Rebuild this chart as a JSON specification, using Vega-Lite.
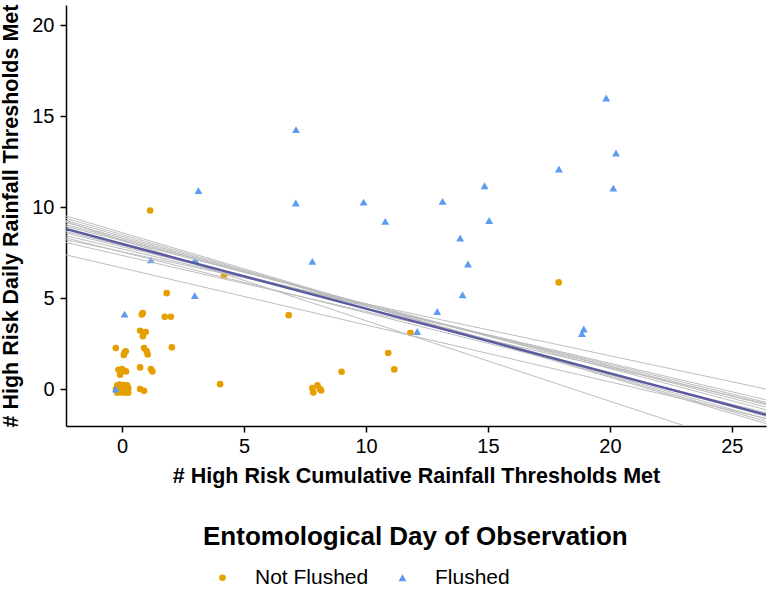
{
  "$schema": "https://vega.github.io/schema/vega-lite/v6.json",
  "width": 700,
  "height": 421,
  "autosize": "none",
  "padding": {"left": 66, "top": 5, "right": 4, "bottom": 166},
  "background": "white",
  "config": {
    "font": "Liberation Sans",
    "view": {"stroke": null},
    "axis": {
      "grid": false,
      "domainColor": "black",
      "domainWidth": 1.5,
      "tickColor": "black",
      "tickWidth": 1.5,
      "tickSize": 6,
      "labelFontSize": 20,
      "labelColor": "black",
      "titleFontSize": 21.5,
      "titleFontWeight": "bold",
      "titleColor": "black"
    }
  },
  "datasets": {
    "pts": [
      {"x": 1.83, "y": 5.27, "g": "Not Flushed"},
      {"x": 1.75, "y": 3.97, "g": "Not Flushed"},
      {"x": 2.0, "y": 3.97, "g": "Not Flushed"},
      {"x": 0.81, "y": 4.1, "g": "Not Flushed"},
      {"x": 0.85, "y": 4.18, "g": "Not Flushed"},
      {"x": 0.74, "y": 3.2, "g": "Not Flushed"},
      {"x": 0.97, "y": 3.13, "g": "Not Flushed"},
      {"x": 0.85, "y": 2.9, "g": "Not Flushed"},
      {"x": -0.26, "y": 2.25, "g": "Not Flushed"},
      {"x": 0.1, "y": 2.0, "g": "Not Flushed"},
      {"x": 0.15, "y": 2.07, "g": "Not Flushed"},
      {"x": 0.07, "y": 1.87, "g": "Not Flushed"},
      {"x": 0.9, "y": 2.25, "g": "Not Flushed"},
      {"x": 1.01, "y": 2.07, "g": "Not Flushed"},
      {"x": 1.05, "y": 1.9, "g": "Not Flushed"},
      {"x": 2.04, "y": 2.29, "g": "Not Flushed"},
      {"x": 0.74, "y": 1.19, "g": "Not Flushed"},
      {"x": 1.18, "y": 1.1, "g": "Not Flushed"},
      {"x": 1.24, "y": 0.97, "g": "Not Flushed"},
      {"x": -0.15, "y": 1.06, "g": "Not Flushed"},
      {"x": -0.01, "y": 1.1, "g": "Not Flushed"},
      {"x": 0.16, "y": 0.97, "g": "Not Flushed"},
      {"x": -0.08, "y": 0.79, "g": "Not Flushed"},
      {"x": 0.07, "y": 1.02, "g": "Not Flushed"},
      {"x": 0.74, "y": 0.0, "g": "Not Flushed"},
      {"x": 0.9, "y": -0.1, "g": "Not Flushed"},
      {"x": 4.02, "y": 0.27, "g": "Not Flushed"},
      {"x": 6.83, "y": 4.06, "g": "Not Flushed"},
      {"x": 1.15, "y": 9.81, "g": "Not Flushed"},
      {"x": 4.18, "y": 6.22, "g": "Not Flushed"},
      {"x": 7.8, "y": 0.05, "g": "Not Flushed"},
      {"x": 8.01, "y": 0.2, "g": "Not Flushed"},
      {"x": 8.16, "y": -0.08, "g": "Not Flushed"},
      {"x": 7.84, "y": -0.19, "g": "Not Flushed"},
      {"x": 8.11, "y": 0.0, "g": "Not Flushed"},
      {"x": 9.0, "y": 0.95, "g": "Not Flushed"},
      {"x": 10.91, "y": 1.98, "g": "Not Flushed"},
      {"x": 11.16, "y": 1.08, "g": "Not Flushed"},
      {"x": 11.82, "y": 3.08, "g": "Not Flushed"},
      {"x": 17.9, "y": 5.86, "g": "Not Flushed"},
      {"x": -0.2, "y": 0.2, "g": "Not Flushed"},
      {"x": -0.1, "y": 0.25, "g": "Not Flushed"},
      {"x": 0.05, "y": 0.22, "g": "Not Flushed"},
      {"x": 0.2, "y": 0.2, "g": "Not Flushed"},
      {"x": -0.25, "y": 0.0, "g": "Not Flushed"},
      {"x": -0.1, "y": 0.05, "g": "Not Flushed"},
      {"x": 0.0, "y": 0.0, "g": "Not Flushed"},
      {"x": 0.12, "y": -0.02, "g": "Not Flushed"},
      {"x": 0.25, "y": 0.05, "g": "Not Flushed"},
      {"x": -0.2, "y": -0.2, "g": "Not Flushed"},
      {"x": -0.05, "y": -0.18, "g": "Not Flushed"},
      {"x": 0.1, "y": -0.2, "g": "Not Flushed"},
      {"x": 0.25, "y": -0.2, "g": "Not Flushed"},
      {"x": 0.05, "y": 0.1, "g": "Not Flushed"},
      {"x": -0.15, "y": -0.05, "g": "Not Flushed"},
      {"x": 3.13, "y": 10.9, "g": "Flushed"},
      {"x": 7.12, "y": 10.22, "g": "Flushed"},
      {"x": 9.9, "y": 10.27, "g": "Flushed"},
      {"x": 1.18, "y": 7.1, "g": "Flushed"},
      {"x": 2.99, "y": 7.1, "g": "Flushed"},
      {"x": 7.8, "y": 7.01, "g": "Flushed"},
      {"x": 2.98, "y": 5.13, "g": "Flushed"},
      {"x": 0.1, "y": 4.12, "g": "Flushed"},
      {"x": 7.13, "y": 14.25, "g": "Flushed"},
      {"x": 19.85, "y": 15.99, "g": "Flushed"},
      {"x": 20.25, "y": 12.97, "g": "Flushed"},
      {"x": 17.91, "y": 12.09, "g": "Flushed"},
      {"x": 20.14, "y": 11.04, "g": "Flushed"},
      {"x": 14.86, "y": 11.17, "g": "Flushed"},
      {"x": 13.14, "y": 10.31, "g": "Flushed"},
      {"x": 10.79, "y": 9.21, "g": "Flushed"},
      {"x": 15.05, "y": 9.26, "g": "Flushed"},
      {"x": 13.86, "y": 8.3, "g": "Flushed"},
      {"x": 14.18, "y": 6.87, "g": "Flushed"},
      {"x": 13.96, "y": 5.18, "g": "Flushed"},
      {"x": 12.92, "y": 4.26, "g": "Flushed"},
      {"x": 12.1, "y": 3.16, "g": "Flushed"},
      {"x": 18.93, "y": 3.3, "g": "Flushed"},
      {"x": 18.85, "y": 3.05, "g": "Flushed"},
      {"x": -0.26, "y": 0.0, "g": "Flushed"}
    ],
    "lines": [
      {"id": "b1", "x": -2.3, "y": 9.51}, {"id": "b1", "x": 26.4, "y": -1.9},
      {"id": "b2", "x": -2.3, "y": 9.38}, {"id": "b2", "x": 26.4, "y": -1.78},
      {"id": "b3", "x": -2.3, "y": 9.26}, {"id": "b3", "x": 26.4, "y": -1.65},
      {"id": "b4", "x": -2.3, "y": 9.2}, {"id": "b4", "x": 26.4, "y": -3.5},
      {"id": "b5", "x": -2.3, "y": 9.15}, {"id": "b5", "x": 26.4, "y": -1.5},
      {"id": "b6", "x": -2.3, "y": 9.03}, {"id": "b6", "x": 26.4, "y": -1.14},
      {"id": "b7", "x": -2.3, "y": 8.94}, {"id": "b7", "x": 26.4, "y": -0.99},
      {"id": "b8", "x": -2.3, "y": 8.66}, {"id": "b8", "x": 26.4, "y": -0.86},
      {"id": "b9", "x": -2.3, "y": 8.57}, {"id": "b9", "x": 26.4, "y": -0.73},
      {"id": "b10", "x": -2.3, "y": 8.42}, {"id": "b10", "x": 26.4, "y": -0.59},
      {"id": "b11", "x": -2.3, "y": 8.3}, {"id": "b11", "x": 26.4, "y": -1.3},
      {"id": "b12", "x": -2.3, "y": 8.2}, {"id": "b12", "x": 26.4, "y": 0.0},
      {"id": "b13", "x": -2.3, "y": 8.05}, {"id": "b13", "x": 26.4, "y": -0.8},
      {"id": "b14", "x": -2.3, "y": 7.37}, {"id": "b14", "x": 26.4, "y": -1.61}
    ],
    "main": [
      {"x": -2.3, "y": 8.79}, {"x": 26.4, "y": -1.41}
    ]
  },
  "layer": [
    {
      "data": {"name": "pts"},
      "mark": {"type": "point", "filled": true, "opacity": 1},
      "encoding": {
        "x": {
          "field": "x", "type": "quantitative",
          "scale": {"domain": [-2.3, 26.4], "nice": false, "zero": false},
          "axis": {"values": [0, 5, 10, 15, 20, 25], "title": "# High Risk Cumulative Rainfall Thresholds Met", "labelPadding": 4, "titlePadding": 9}
        },
        "y": {
          "field": "y", "type": "quantitative",
          "scale": {"domain": [-2.03, 21.1], "nice": false, "zero": false},
          "axis": {"values": [0, 5, 10, 15, 20], "title": "# High Risk Daily Rainfall Thresholds Met", "labelPadding": 6, "titlePadding": 9}
        },
        "color": {
          "field": "g", "type": "nominal",
          "scale": {"domain": ["Not Flushed", "Flushed"], "range": ["#E69F00", "#5B9BF0"]},
          "legend": {
            "title": "Entomological Day of Observation",
            "orient": "none",
            "direction": "horizontal",
            "legendX": 137,
            "legendY": 519,
            "titleFontSize": 26,
            "titleFontWeight": "bold",
            "titleColor": "black",
            "titleLimit": 700,
            "titlePadding": 17,
            "labelFontSize": 21,
            "labelColor": "black",
            "labelOffset": 22,
            "labelLimit": 300,
            "symbolOffset": 9,
            "columnPadding": 14,
            "symbolSize": 80,
            "encode": {"symbols": {"update": {"size": {"value": 80}}}}
          }
        },
        "shape": {
          "field": "g", "type": "nominal",
          "scale": {"domain": ["Not Flushed", "Flushed"], "range": ["circle", "triangle-up"]}
        },
        "size": {
          "field": "g", "type": "nominal",
          "scale": {"domain": ["Not Flushed", "Flushed"], "range": [44, 62]},
          "legend": null
        }
      }
    },
    {
      "data": {"name": "lines"},
      "mark": {"type": "line", "color": "#bdbdbd", "strokeWidth": 1, "clip": true},
      "encoding": {
        "x": {"field": "x", "type": "quantitative"},
        "y": {"field": "y", "type": "quantitative"},
        "detail": {"field": "id", "type": "nominal"}
      }
    },
    {
      "data": {"name": "main"},
      "mark": {"type": "line", "color": "#5A5AA0", "strokeWidth": 2.5, "clip": true},
      "encoding": {
        "x": {"field": "x", "type": "quantitative"},
        "y": {"field": "y", "type": "quantitative"}
      }
    }
  ]
}
